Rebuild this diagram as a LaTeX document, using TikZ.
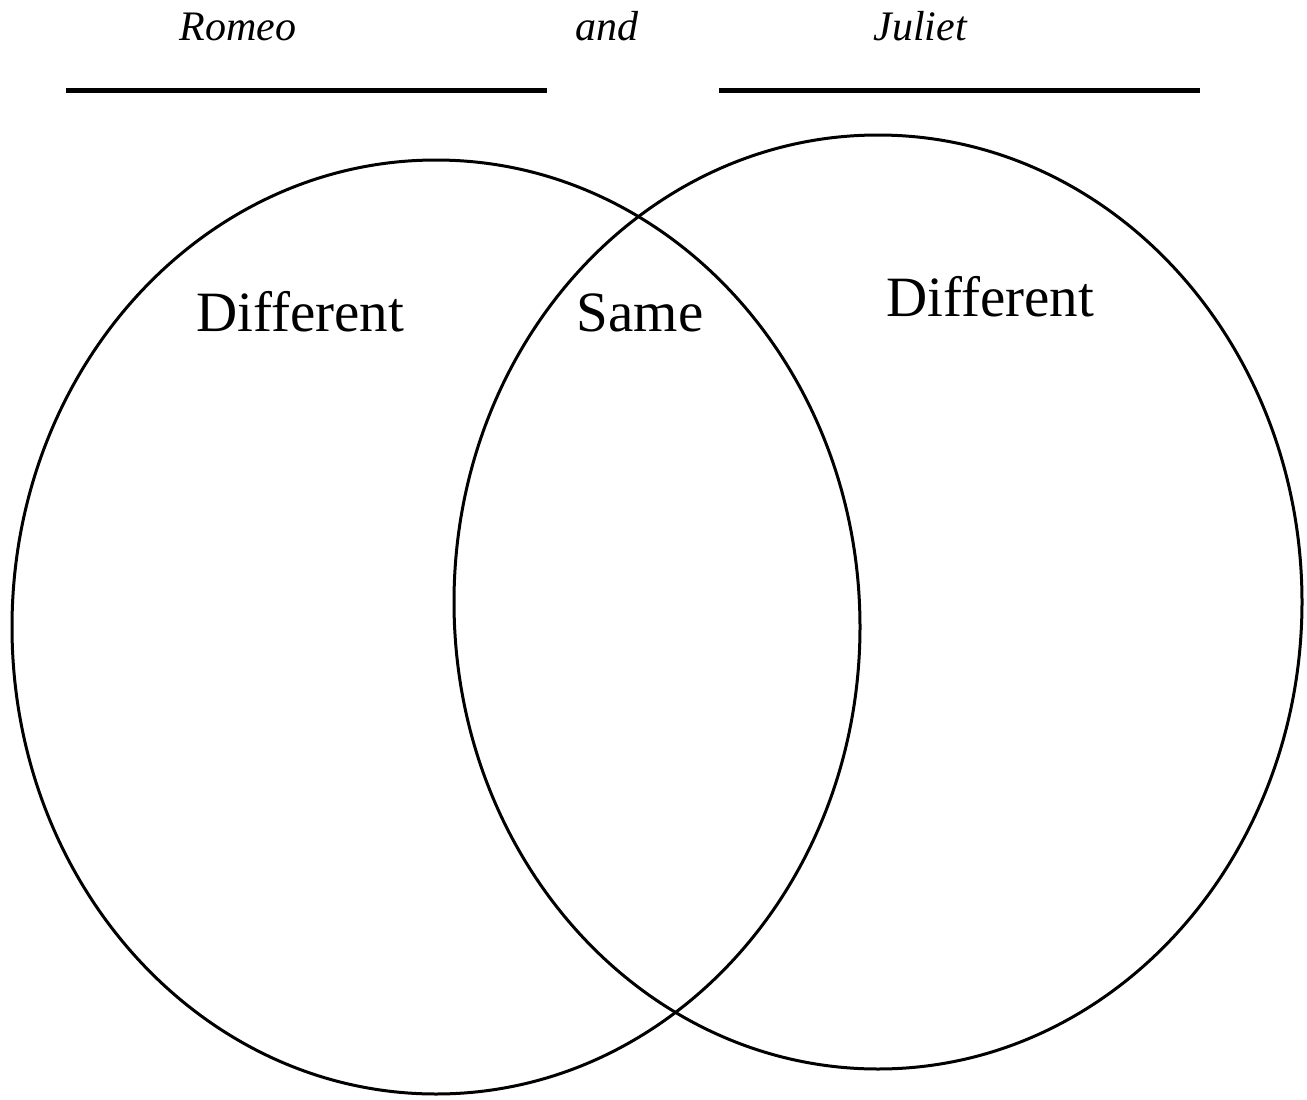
\documentclass[tikz,border=0pt]{standalone}
\usepackage{fontspec}
\setmainfont{Liberation Serif}
\begin{document}
\begin{tikzpicture}[
    x=1pt, y=-1pt,
    title/.style={font=\fontsize{42}{48}\selectfont\itshape, anchor=base},
    region/.style={font=\fontsize{57}{64}\selectfont, anchor=base},
    ring/.style={line width=3pt},
    rule/.style={line width=5pt}
  ]
  \useasboundingbox (0,0) rectangle (1307,1100);

  % the two sets
  \draw[ring] (436,627) ellipse [x radius=424pt, y radius=467pt];
  \draw[ring] (878,602) ellipse [x radius=424pt, y radius=467pt];

  % titles over the blank lines
  \node[title] (romeo) at (238,40) {Romeo};
  \node[title] (and) at (607,40) {and};
  \node[title] (juliet) at (920,40) {Juliet};

  \coordinate (leftA) at (66,90);
  \coordinate (leftB) at (547,90);
  \coordinate (rightA) at (719,90);
  \coordinate (rightB) at (1200,90);
  \draw[rule] (leftA) -- (leftB);
  \draw[rule] (rightA) -- (rightB);

  % region labels
  \node[region] (diffL) at (300,331) {Different};
  \node[region] (same) at (640,331) {Same};
  \node[region] (diffR) at (990,316) {Different};
\end{tikzpicture}
\end{document}
